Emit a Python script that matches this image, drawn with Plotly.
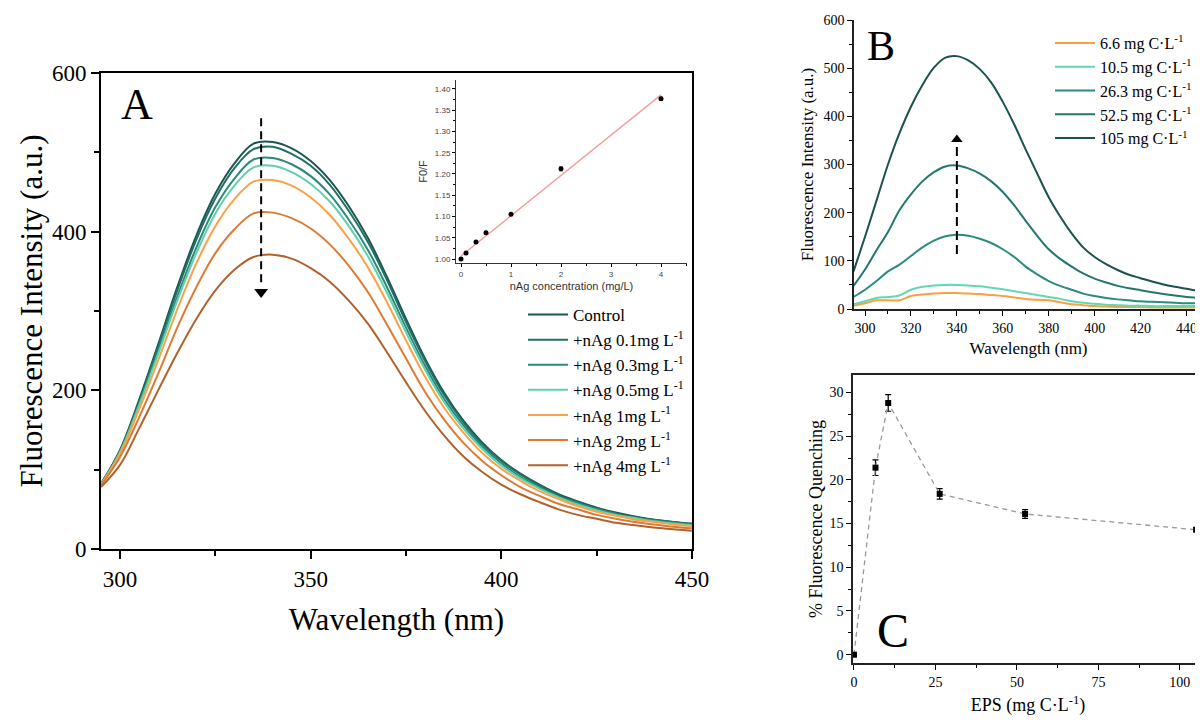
import plotly.graph_objects as go

W, H = 1203, 722
OFF = 8            # the page body adds an 8 px margin around the figure
FW, FH = W - OFF, H - OFF
SERIF = "Liberation Serif"
SANS = "Liberation Sans"

# ---------------- Panel A : quenching spectra ----------------
wl_a = [295, 300, 305, 310, 315, 320, 325, 330, 335, 340, 345, 350, 355, 360, 365, 370,
        375, 380, 385, 390, 395, 400, 405, 410, 415, 420, 425, 430, 435, 440, 445, 450]
a_control = [82, 125, 188, 258, 330, 395, 448, 486, 511, 513, 505, 489, 465, 432, 392, 343,
             290, 240, 197, 162, 134, 112, 95, 81, 69, 60, 52, 46, 41, 37, 34, 32]
a_01 = [82, 124, 186, 255, 326, 390, 442, 480, 504, 507, 498, 483, 459, 426, 387, 339,
        286, 237, 194, 160, 132, 111, 94, 80, 68, 59, 51, 45, 40, 37, 34, 31]
a_03 = [81, 123, 183, 250, 318, 380, 431, 467, 491, 493, 485, 470, 447, 415, 377, 330,
        279, 231, 189, 156, 129, 108, 91, 78, 66, 58, 50, 44, 39, 36, 33, 31]
a_05 = [81, 122, 181, 246, 313, 373, 423, 458, 481, 483, 475, 460, 438, 407, 369, 323,
        273, 226, 185, 152, 126, 105, 89, 76, 65, 56, 49, 43, 39, 35, 32, 30]
a_1 = [81, 120, 176, 238, 302, 360, 407, 441, 463, 465, 458, 443, 421, 391, 355, 311,
       263, 217, 178, 147, 121, 101, 86, 73, 63, 54, 47, 42, 37, 34, 31, 29]
a_2 = [80, 116, 166, 221, 279, 330, 373, 403, 423, 424, 417, 404, 384, 357, 324, 283,
       240, 198, 163, 134, 111, 93, 78, 67, 57, 50, 43, 38, 34, 31, 28, 26]
a_4 = [78, 106, 152, 200, 247, 290, 326, 352, 368, 371, 366, 354, 337, 313, 284, 248,
       210, 174, 143, 117, 97, 81, 69, 59, 50, 43, 38, 33, 30, 27, 25, 23]
a_series = [a_control, a_01, a_03, a_05, a_1, a_2, a_4]
a_labels = ["Control", "+nAg 0.1mg L<sup>-1</sup>", "+nAg 0.3mg L<sup>-1</sup>",
            "+nAg 0.5mg L<sup>-1</sup>", "+nAg 1mg L<sup>-1</sup>",
            "+nAg 2mg L<sup>-1</sup>", "+nAg 4mg L<sup>-1</sup>"]
a_colors = ["#1b5751", "#226f66", "#2a8a7b", "#5fd0ab", "#f9a24a", "#df7a34", "#b0622c"]
a_arrow_x = [337, 337]
a_arrow_y = [543, 332]
a_head = (337, 324)

# ---------------- Inset : Stern-Volmer ----------------
inset_conc = [0, 0.1, 0.3, 0.5, 1, 2, 4]
inset_f0f = [1.000, 1.014, 1.040, 1.062, 1.105, 1.212, 1.377]
inset_err = [0.002, 0.002, 0.002, 0.003, 0.002, 0.005, 0.004]
fit_x = [0, 4]
fit_y = [1.007, 1.386]

# ---------------- Panel B : EPS spectra ----------------
wl_b = [295, 300, 305, 310, 315, 320, 325, 330, 335, 340, 345, 350, 355, 360, 365, 370,
        375, 380, 385, 390, 395, 400, 405, 410, 415, 420, 425, 430, 435, 440, 445, 450]
b_66 = [7, 12, 18, 18, 18, 27, 30, 32, 33, 33, 32, 31, 29, 27, 24, 21,
        19, 18, 14, 10, 8, 6, 5, 4, 4, 4, 3, 3, 3, 3, 3, 3]
b_105 = [10, 16, 23, 25, 28, 40, 46, 49, 50, 50, 49, 47, 44, 41, 37, 33,
         29, 25, 21, 16, 13, 11, 9, 8, 7, 7, 6, 6, 6, 6, 6, 6]
b_263 = [25, 40, 58, 78, 92, 110, 128, 142, 151, 154, 152, 146, 137, 124, 108, 88,
         72, 58, 48, 40, 32, 27, 23, 20, 18, 16, 15, 14, 13, 12, 12, 11]
b_525 = [48, 82, 122, 160, 205, 238, 265, 284, 296, 298, 292, 281, 265, 243, 215, 183,
         152, 124, 104, 88, 74, 63, 55, 48, 43, 39, 35, 31, 28, 25, 23, 21]
b_1050 = [78, 150, 225, 300, 365, 420, 465, 501, 522, 525, 516, 498, 470, 430, 383, 331,
          281, 232, 192, 157, 128, 108, 93, 81, 71, 64, 57, 51, 46, 42, 38, 35]
b_series = [b_66, b_105, b_263, b_525, b_1050]
b_labels = ["6.6 mg C·L<sup>-1</sup>", "10.5 mg C·L<sup>-1</sup>", "26.3 mg C·L<sup>-1</sup>",
            "52.5 mg C·L<sup>-1</sup>", "105 mg C·L<sup>-1</sup>"]
b_colors = ["#f9a040", "#66d5b2", "#2b8c7d", "#23776c", "#1b524d"]
b_arrow_x = [340, 340]
b_arrow_y = [114, 342]
b_head = (340, 352)

# ---------------- Panel C : % quenching ----------------
eps = [0, 6.6, 10.5, 26.3, 52.5, 105]
quench = [0, 21.4, 28.8, 18.4, 16.1, 14.3]
quench_err = [0.0, 0.9, 0.95, 0.6, 0.5, 0.2]


def px_x(p):
    return (p - OFF) / FW


def px_y(p):
    return 1 - (p - OFF) / FH


fig = go.Figure()

# Panel A curves
for vals, lab, col in zip(a_series, a_labels, a_colors):
    fig.add_trace(go.Scatter(x=wl_a, y=vals, mode="lines", name=lab,
                             line=dict(color=col, width=2, shape="spline"),
                             xaxis="x", yaxis="y", legend="legend"))
fig.add_trace(go.Scatter(x=a_arrow_x, y=a_arrow_y, mode="lines", showlegend=False,
                         line=dict(color="black", width=2, dash="8px,5px"),
                         xaxis="x", yaxis="y"))
fig.add_trace(go.Scatter(x=[a_head[0]], y=[a_head[1]], mode="markers", showlegend=False,
                         marker=dict(symbol="triangle-down", size=12, color="black"),
                         xaxis="x", yaxis="y"))

# Inset
fig.add_trace(go.Scatter(x=fit_x, y=fit_y, mode="lines", showlegend=False,
                         line=dict(color="#f49a9a", width=1.3), xaxis="x2", yaxis="y2"))
fig.add_trace(go.Scatter(x=inset_conc, y=inset_f0f, mode="markers", showlegend=False,
                         marker=dict(color="black", size=5),
                         error_y=dict(type="data", array=inset_err, color="#888888",
                                      thickness=1, width=2),
                         xaxis="x2", yaxis="y2"))

# Panel B curves
for vals, lab, col in zip(b_series, b_labels, b_colors):
    fig.add_trace(go.Scatter(x=wl_b, y=vals, mode="lines", name=lab,
                             line=dict(color=col, width=2, shape="spline"),
                             xaxis="x3", yaxis="y3", legend="legend2"))
fig.add_trace(go.Scatter(x=b_arrow_x, y=b_arrow_y, mode="lines", showlegend=False,
                         line=dict(color="black", width=2, dash="9px,5px"),
                         xaxis="x3", yaxis="y3"))
fig.add_trace(go.Scatter(x=[b_head[0]], y=[b_head[1]], mode="markers", showlegend=False,
                         marker=dict(symbol="triangle-up", size=10, color="black"),
                         xaxis="x3", yaxis="y3"))

# Panel C
fig.add_trace(go.Scatter(x=eps, y=quench, mode="lines+markers", showlegend=False,
                         line=dict(color="#999999", width=1.3, dash="5px,4px"),
                         marker=dict(symbol="square", size=6, color="black"),
                         error_y=dict(type="data", array=quench_err, color="black",
                                      thickness=1.2, width=3),
                         xaxis="x4", yaxis="y4"))


def serif_tick(s):
    return dict(family=SERIF, size=s, color="black")


common = dict(showgrid=False, zeroline=False, automargin=False, tickcolor="black")

fig.update_layout(
    width=FW, height=FH, margin=dict(l=0, r=0, t=0, b=0, pad=0),
    paper_bgcolor="white", plot_bgcolor="rgba(0,0,0,0)",
    showlegend=True,
    xaxis=dict(domain=[px_x(101), px_x(692)], range=[295, 450], anchor="y",
               tickvals=[300, 350, 400, 450], ticks="outside", ticklen=8, tickwidth=2,
               minor=dict(tickvals=[325, 375, 425], ticks="outside", ticklen=5, tickwidth=2),
               showline=True, linewidth=2, linecolor="black", mirror=True,
               tickfont=serif_tick(23),
               title=dict(text="Wavelength (nm)", font=serif_tick(31), standoff=18), **common),
    yaxis=dict(domain=[px_y(549), px_y(73)], range=[0, 600], anchor="x",
               tickvals=[0, 200, 400, 600], ticks="outside", ticklen=8, tickwidth=2,
               minor=dict(tickvals=[100, 300, 500], ticks="outside", ticklen=5, tickwidth=2),
               showline=True, linewidth=2, linecolor="black", mirror=True,
               tickfont=serif_tick(23),
               title=dict(text="Fluorescence Intensity (a.u.)", font=serif_tick(31), standoff=0),
               **common),
    xaxis2=dict(domain=[px_x(456), px_x(687)], range=[-0.1, 4.52], anchor="y2",
                tickvals=[0, 1, 2, 3, 4], ticks="outside", ticklen=3, tickwidth=1,
                minor=dict(dtick=0.5, ticks="outside", ticklen=2, tickwidth=1),
                showline=True, linewidth=1, linecolor="#333333",
                tickfont=dict(family=SANS, size=8, color="#444444"),
                title=dict(text="nAg concentration (mg/L)",
                           font=dict(family=SANS, size=11, color="#333333"), standoff=4),
                **common),
    yaxis2=dict(domain=[px_y(263), px_y(80)], range=[0.9906, 1.421], anchor="x2",
                tickvals=[1.00, 1.05, 1.10, 1.15, 1.20, 1.25, 1.30, 1.35, 1.40],
                ticktext=["1.00", "1.05", "1.10", "1.15", "1.20", "1.25", "1.30", "1.35", "1.40"],
                ticks="outside", ticklen=3, tickwidth=1,
                minor=dict(dtick=0.025, ticks="outside", ticklen=2, tickwidth=1),
                showline=True, linewidth=1, linecolor="#333333",
                tickfont=dict(family=SANS, size=8, color="#444444"),
                title=dict(text="F0/F", font=dict(family=SANS, size=11, color="#333333"),
                           standoff=4),
                **common),
    xaxis3=dict(domain=[px_x(854), 1.0], range=[295.2, 447.2], anchor="y3",
                tickvals=[300, 320, 340, 360, 380, 400, 420, 440], ticks="outside",
                ticklen=5, tickwidth=1.2,
                minor=dict(dtick=10, ticks="outside", ticklen=3, tickwidth=1.2),
                showline=True, linewidth=1.5, linecolor="#222222",
                tickfont=serif_tick(14),
                title=dict(text="Wavelength (nm)", font=serif_tick(17), standoff=8), **common),
    yaxis3=dict(domain=[px_y(309), px_y(20)], range=[0, 600], anchor="x3",
                tickvals=[0, 100, 200, 300, 400, 500, 600], ticks="outside",
                ticklen=5, tickwidth=1.2,
                minor=dict(dtick=50, ticks="outside", ticklen=3, tickwidth=1.2),
                showline=True, linewidth=1.5, linecolor="#222222",
                tickfont=serif_tick(14),
                title=dict(text="Fluorescence Intensity (a.u.)", font=serif_tick(17),
                           standoff=6),
                **common),
    xaxis4=dict(domain=[px_x(853), 1.0], range=[-0.3, 107.1], anchor="y4",
                tickvals=[0, 25, 50, 75, 100], ticks="outside", ticklen=5, tickwidth=1.2,
                minor=dict(dtick=12.5, ticks="outside", ticklen=3, tickwidth=1.2),
                showline=True, linewidth=1.5, linecolor="#222222", mirror=True,
                tickfont=serif_tick(14),
                title=dict(text="EPS (mg C·L<sup>-1</sup>)", font=serif_tick(18), standoff=10),
                **common),
    yaxis4=dict(domain=[px_y(663), px_y(375)], range=[-0.95, 32.0], anchor="x4",
                tickvals=[0, 5, 10, 15, 20, 25, 30], ticks="outside", ticklen=5, tickwidth=1.2,
                minor=dict(dtick=2.5, ticks="outside", ticklen=3, tickwidth=1.2),
                showline=True, linewidth=1.5, linecolor="#222222",
                tickfont=serif_tick(14),
                title=dict(text="% Fluorescence Quenching", font=serif_tick(18), standoff=2),
                **common),
    legend=dict(x=px_x(523), y=px_y(297), xanchor="left", yanchor="top",
                font=dict(family=SERIF, size=17, color="black"),
                bgcolor="rgba(0,0,0,0)", borderwidth=0, tracegroupgap=0, itemwidth=40),
    legend2=dict(x=px_x(1050), y=px_y(26), xanchor="left", yanchor="top",
                 font=dict(family=SERIF, size=16, color="black"),
                 bgcolor="rgba(0,0,0,0)", borderwidth=0, tracegroupgap=0, itemwidth=40),
    annotations=[
        dict(text="A", x=px_x(137), y=px_y(105), xref="paper", yref="paper",
             xanchor="center", yanchor="middle", showarrow=False,
             font=dict(family=SERIF, size=44, color="black")),
        dict(text="B", x=px_x(881), y=px_y(46), xref="paper", yref="paper",
             xanchor="center", yanchor="middle", showarrow=False,
             font=dict(family=SERIF, size=42, color="black")),
        dict(text="C", x=px_x(893), y=px_y(630), xref="paper", yref="paper",
             xanchor="center", yanchor="middle", showarrow=False,
             font=dict(family=SERIF, size=48, color="black")),
    ],
)

fig.write_html("out.html")
